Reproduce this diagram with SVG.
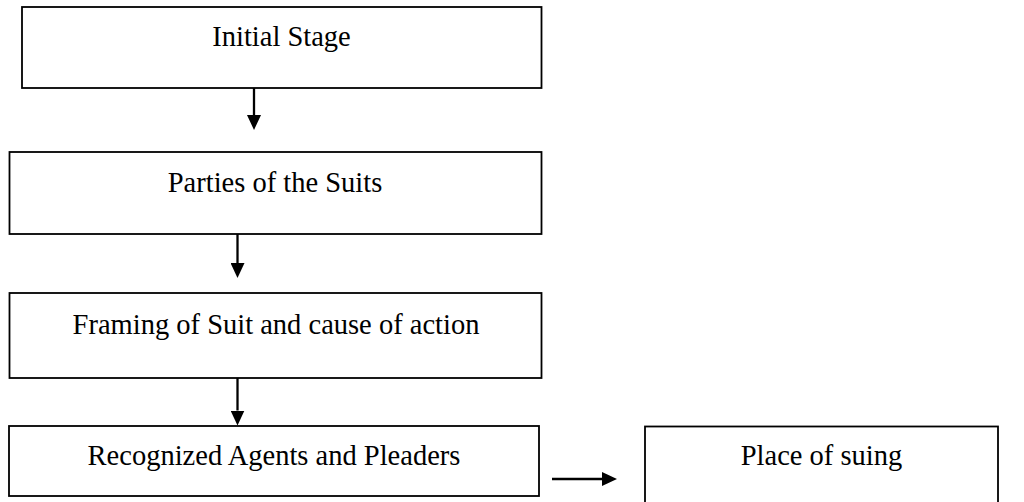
<svg xmlns="http://www.w3.org/2000/svg" width="1024" height="502" viewBox="0 0 1024 502">
  <style>
    .box { fill: #ffffff; stroke: #000000; stroke-width: 1.8; }
    .lbl { font-family: "Liberation Serif", "Times New Roman", serif; font-size: 28.5px; fill: #000000; text-anchor: middle; }
    .conn { stroke: #000000; stroke-width: 2.3; fill: none; }
  </style>
  <defs>
    <marker id="arr" viewBox="0 0 15 14" refX="0" refY="7" markerWidth="15" markerHeight="14" markerUnits="userSpaceOnUse" orient="auto">
      <path d="M0,0 L15,7 L0,14 Z" fill="#000000"/>
    </marker>
  </defs>
  <rect x="0" y="0" width="1024" height="502" fill="#ffffff"/>

  <g id="node-initial">
    <rect class="box" x="22" y="7" width="519.5" height="81"/>
    <text class="lbl" x="281.5" y="46">Initial Stage</text>
  </g>
  <g id="node-parties">
    <rect class="box" x="9.5" y="152" width="532" height="82"/>
    <text class="lbl" x="275" y="192">Parties of the Suits</text>
  </g>
  <g id="node-framing">
    <rect class="box" x="9.5" y="293" width="532" height="85"/>
    <text class="lbl" x="276" y="334">Framing of Suit and cause of action</text>
  </g>
  <g id="node-agents">
    <rect class="box" x="9" y="426" width="530" height="70"/>
    <text class="lbl" x="274" y="465">Recognized Agents and Pleaders</text>
  </g>
  <g id="node-place">
    <rect class="box" x="645" y="426.5" width="353" height="90"/>
    <text class="lbl" x="821.5" y="465">Place of suing</text>
  </g>

  <g id="connectors">
    <line class="conn" x1="254" y1="88" x2="254" y2="115" marker-end="url(#arr)"/>
    <line class="conn" x1="237.5" y1="234" x2="237.5" y2="263" marker-end="url(#arr)"/>
    <line class="conn" x1="237.5" y1="378" x2="237.5" y2="410.5" marker-end="url(#arr)"/>
    <line class="conn" x1="552" y1="479" x2="602" y2="479" marker-end="url(#arr)"/>
  </g>
</svg>
